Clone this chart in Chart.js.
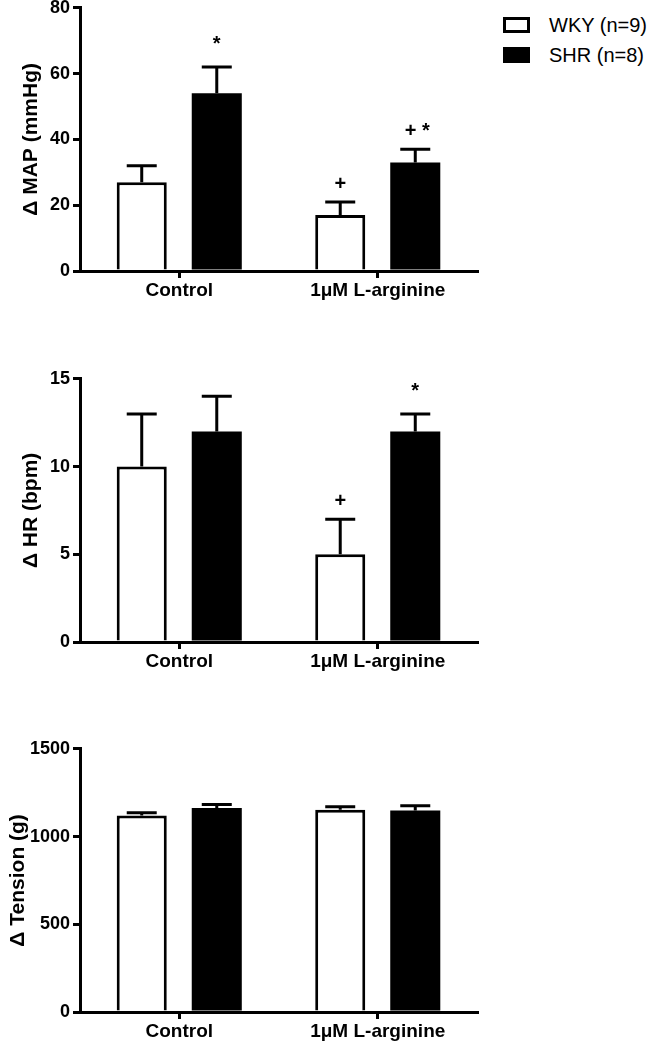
<!DOCTYPE html>
<html>
<head>
<meta charset="utf-8">
<script src="https://cdn.jsdelivr.net/npm/chart.js@4/dist/chart.umd.min.js"></script>
<style>
  body { margin: 0; background: #fff; width: 657px; height: 1046px; position: relative; overflow: hidden; }
  canvas { position: absolute; left: 0; }
  .leg { position: absolute; left: 503px; font-family: "Liberation Sans", Arial, sans-serif; font-size: 20px; color: #000; }
  .leg span.box { position: absolute; left: 0; width: 27px; height: 16px; box-sizing: border-box; border: 3px solid #000; }
  .leg span.txt { position: absolute; left: 46px; white-space: nowrap; line-height: 20px; }
</style>
</head>
<body>
<canvas id="c1" width="490" height="316" style="top:-6px"></canvas>
<canvas id="c2" width="490" height="316" style="top:365px"></canvas>
<canvas id="c3" width="490" height="316" style="top:735px"></canvas>

<div class="leg" style="top:17px"><span class="box" style="background:#fff"></span><span class="txt" style="top:-2px">WKY (n=9)</span></div>
<div class="leg" style="top:47px"><span class="box" style="background:#000"></span><span class="txt" style="top:-2px">SHR (n=8)</span></div>

<script>
// categories and groups
const categories = ['Control', '1μM L-arginine'];
const groupLabels = ['WKY (n=9)', 'SHR (n=8)'];

// MAP (mmHg)
const mapWky = [27, 17];
const mapWkySem = [5, 4];
const mapShr = [54, 33];
const mapShrSem = [8, 4];
const mapWkyMarks = ['', '+'];
const mapShrMarks = ['*', '+ *'];

// HR (bpm)
const hrWky = [10, 5];
const hrWkySem = [3, 2];
const hrShr = [12, 12];
const hrShrSem = [2, 1];
const hrWkyMarks = ['', '+'];
const hrShrMarks = ['', '*'];

// Tension (g)
const tensionWky = [1120, 1153];
const tensionWkySem = [15, 17];
const tensionShr = [1163, 1148];
const tensionShrSem = [19, 27];
const tensionWkyMarks = ['', ''];
const tensionShrMarks = ['', ''];

const FONT = '"Liberation Sans", Arial, sans-serif';

// barres d'erreur (vers le haut seulement) + signes de significativite
const errorBarsPlugin = {
    id: 'errorBars',
    afterDatasetsDraw(chart) {
        const ctx = chart.ctx;
        const yScale = chart.scales.y;
        ctx.save();
        chart.data.datasets.forEach((ds, i) => {
            const meta = chart.getDatasetMeta(i);
            meta.data.forEach((bar, j) => {
                const x = bar.x;
                const yTop = yScale.getPixelForValue(ds.data[j] + ds.sem[j]);
                ctx.strokeStyle = '#000';
                ctx.lineWidth = 3;
                ctx.lineCap = 'butt';
                ctx.beginPath();
                ctx.moveTo(x, bar.y);
                ctx.lineTo(x, yTop);
                ctx.moveTo(x - 15, yTop);
                ctx.lineTo(x + 15, yTop);
                ctx.stroke();
                const mark = ds.marks[j];
                if (mark) {
                    ctx.fillStyle = '#000';
                    ctx.font = 'bold 20px ' + FONT;
                    ctx.textAlign = 'center';
                    ctx.textBaseline = 'alphabetic';
                    // l'asterisque seule est placee un peu plus haut
                    const dy = mark === '*' ? 17 : 12;
                    ctx.fillText(mark, x + (mark.length > 1 ? 2 : 0), yTop - dy);
                }
            });
        });
        ctx.restore();
    }
};

function makeChart(id, title, titlePad, wky, wkySem, wkyMarks, shr, shrSem, shrMarks, maxY, step) {
    const ctx = document.getElementById(id).getContext('2d');
    return new Chart(ctx, {
        type: 'bar',
        data: {
            labels: categories,
            datasets: [{
                label: groupLabels[0],
                data: wky,
                sem: wkySem,
                marks: wkyMarks,
                backgroundColor: '#fff',
                borderColor: '#000',
                borderWidth: 3,
                categoryPercentage: 0.756,
                barPercentage: 0.667
            }, {
                label: groupLabels[1],
                data: shr,
                sem: shrSem,
                marks: shrMarks,
                backgroundColor: '#000',
                borderColor: '#000',
                borderWidth: 0,
                categoryPercentage: 0.756,
                barPercentage: 0.667
            }]
        },
        options: {
            responsive: false,
            animation: false,
            layout: { padding: { top: 13, right: 13, left: 0, bottom: 0 } },
            plugins: {
                legend: { display: false },
                tooltip: { enabled: false }
            },
            scales: {
                x: {
                    afterFit: (scale) => { scale.height = 39; },
                    grid: { display: true, drawOnChartArea: false, offset: false, tickLength: 7, lineWidth: 3, color: '#000' },
                    border: { display: true, width: 3, color: '#000' },
                    ticks: { color: '#000', padding: 1, font: { family: FONT, size: 19, weight: 'bold' } }
                },
                y: {
                    min: 0,
                    max: maxY,
                    afterFit: (scale) => { scale.width = 80; },
                    grid: { display: true, drawOnChartArea: false, tickLength: 7, lineWidth: 3, color: '#000' },
                    border: { display: true, width: 3, color: '#000' },
                    ticks: {
                        stepSize: step,
                        color: '#000',
                        padding: 3,
                        font: { family: FONT, size: 18, weight: 'bold' },
                        callback: (v) => String(v)
                    },
                    title: {
                        display: true,
                        text: title,
                        color: '#000',
                        padding: { top: titlePad, bottom: 0 },
                        font: { family: FONT, size: 21, weight: 'bold' }
                    }
                }
            }
        },
        plugins: [errorBarsPlugin]
    });
}

makeChart('c1', 'Δ MAP (mmHg)', 19, mapWky, mapWkySem, mapWkyMarks, mapShr, mapShrSem, mapShrMarks, 80, 20);
makeChart('c2', 'Δ HR (bpm)', 19, hrWky, hrWkySem, hrWkyMarks, hrShr, hrShrSem, hrShrMarks, 15, 5);
makeChart('c3', 'Δ Tension (g)', 6, tensionWky, tensionWkySem, tensionWkyMarks, tensionShr, tensionShrSem, tensionShrMarks, 1500, 500);
</script>
</body>
</html>
